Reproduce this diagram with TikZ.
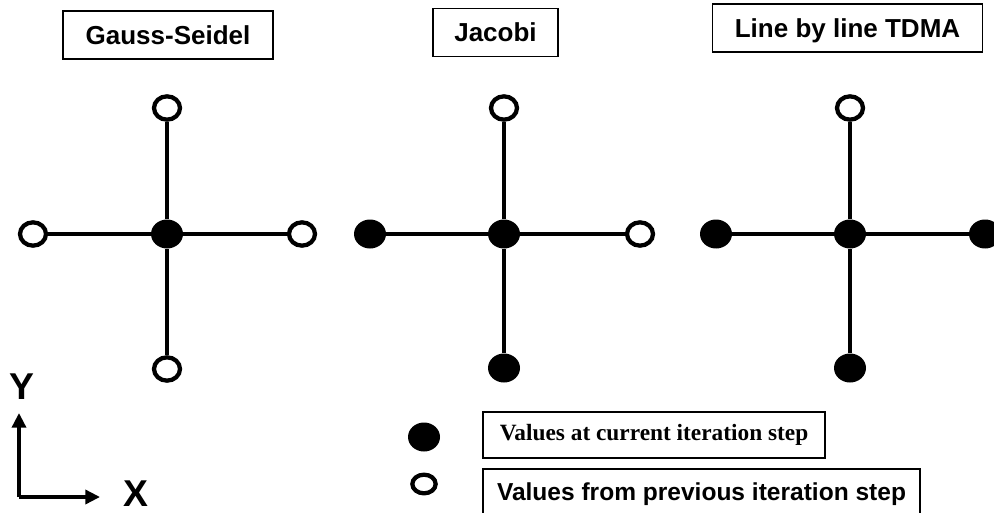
\documentclass[tikz,border=0pt]{standalone}
\usepackage{fontspec}
\setmainfont{Liberation Sans}
\newfontfamily\timesfont{Liberation Serif}
\usetikzlibrary{arrows.meta,shapes.geometric}

\begin{document}
\begin{tikzpicture}[x=0.75pt, y=-0.75pt, font=\bfseries,
  box/.style={draw, line width=0.9pt, inner sep=0pt},
  title/.style={box, minimum height=36pt, text height=14pt, text depth=0pt, font=\fontsize{19.5}{22}\selectfont\bfseries},
  opn/.style={ellipse, draw, line width=3.2pt, fill=white, minimum width=19.5pt, minimum height=17.5pt, inner sep=0pt},
  fil/.style={ellipse, fill=black, minimum width=24pt, minimum height=21.75pt, inner sep=0pt},
  link/.style={line width=2.6pt},
  arr/.style={-{Triangle[length=11pt, width=10.5pt]}, line width=2.6pt}]
\useasboundingbox (0,0) rectangle (994,513);

% titles
\node[title, minimum width=157.5pt] (tgs) at (168,35) {Gauss-Seidel};
\node[title, minimum width=93.75pt] (tja) at (495.5,32.5) {Jacobi};
\node[title, minimum width=203pt] (ttd) at (847.5,28) {Line by line TDMA};

% Gauss-Seidel stencil
\node[fil] (gsC) at (167,234) {};
\node[opn] (gsN) at (167,108) {};
\node[opn] (gsS) at (167,369) {};
\node[opn] (gsW) at (33,234) {};
\node[opn] (gsE) at (302,234) {};
\draw[link] (gsN) -- (gsC) -- (gsS);
\draw[link] (gsW) -- (gsC) -- (gsE);

% Jacobi stencil
\node[fil] (jaC) at (504,234) {};
\node[opn] (jaN) at (504,108) {};
\node[fil] (jaS) at (504,368) {};
\node[fil] (jaW) at (370,234) {};
\node[opn] (jaE) at (640,234) {};
\draw[link] (jaN) -- (jaC) -- (jaS);
\draw[link] (jaW) -- (jaC) -- (jaE);

% TDMA stencil
\node[fil] (tdC) at (850,234) {};
\node[opn] (tdN) at (850,108) {};
\node[fil] (tdS) at (850,368) {};
\node[fil] (tdW) at (716,234) {};
\node[fil] (tdE) at (985,234) {};
\draw[link] (tdN) -- (tdC) -- (tdS);
\draw[link] (tdW) -- (tdC) -- (tdE);

% axes
\coordinate (o) at (19,497);
\coordinate (ytip) at (19,413);
\coordinate (xtip) at (100,497);
\draw[arr] (o) -- (ytip);
\draw[arr] (o) -- (xtip);
\node[font=\fontsize{28}{30}\selectfont\bfseries] (ylab) at (21.5,386.5) {Y};
\node[font=\fontsize{28}{30}\selectfont\bfseries] (xlab) at (136,493.5) {X};

% legend
\node[fil] (lfil) at (424,437) {};
\node[opn, minimum width=17.5pt, minimum height=14pt] (lopn) at (424,484) {};
\node[box, minimum width=256.5pt, minimum height=34.5pt, font=\timesfont\fontsize{17.5}{20}\selectfont\bfseries] (lcur) at (654,435) {Values at current iteration step};
\node[box, minimum width=327.75pt, minimum height=37.5pt, font=\fontsize{18.4}{20}\selectfont\bfseries] (lprev) at (701.5,494) {Values from previous iteration step};
\end{tikzpicture}
\end{document}
